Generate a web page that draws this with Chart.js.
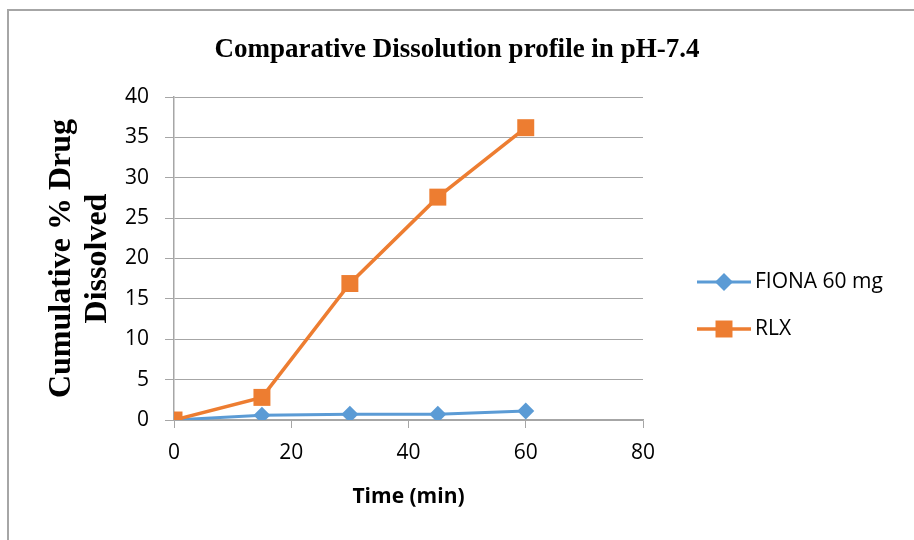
<!DOCTYPE html>
<html>
<head>
<meta charset="utf-8">
<title>Comparative Dissolution profile in pH-7.4</title>
<script src="https://cdn.jsdelivr.net/npm/chart.js@4.4.1/dist/chart.umd.min.js"></script>
<style>
  html, body { margin: 0; padding: 0; background: #fff; }
  #wrap { position: relative; width: 914px; height: 540px; overflow: hidden; }
  #frame { position: absolute; left: 7px; top: 9px; width: 1000px; height: 1000px;
           border-left: 2px solid #A6A6A6; border-top: 2px solid #A6A6A6; }
  canvas { position: absolute; left: 0; top: 0; }
</style>
</head>
<body>
<div id="wrap">
  <div id="frame"></div>
  <canvas id="chart" width="914" height="540"></canvas>
</div>
<script>
// data
const timeMin = [0, 15, 30, 45, 60];
const fionaValues = [0, 0.6, 0.7, 0.7, 1.1];
const rlxValues = [0, 2.8, 16.9, 27.6, 36.2];
const seriesNames = ["FIONA 60 mg", "RLX"];

const sans = "'Open Sans', 'Noto Sans', sans-serif";
const serif = "'Liberation Serif', 'DejaVu Serif', serif";
const gridGray = "#A6A6A6";

const toPoints = vals => timeMin.map((t, i) => ({ x: t, y: vals[i] }));

// legend with a line + marker, like the office chart
const lineLegend = {
  id: "lineLegend",
  afterDraw(chart) {
    const ctx = chart.ctx;
    const area = chart.chartArea;
    const x0 = area.right + 54;
    const mid = (area.top + area.bottom) / 2;
    const ys = [mid + 23.5, mid + 70.5];
    const order = [1, 0]; // FIONA, RLX
    order.forEach((di, k) => {
      const ds = chart.data.datasets[di];
      const y = ys[k];
      ctx.save();
      ctx.strokeStyle = ds.borderColor;
      ctx.fillStyle = ds.backgroundColor;
      ctx.lineWidth = ds.borderWidth;
      ctx.beginPath();
      ctx.moveTo(x0, y);
      ctx.lineTo(x0 + 54, y);
      ctx.stroke();
      Chart.helpers.drawPoint(ctx, {
        pointStyle: ds.pointStyle,
        radius: ds.legendRadius,
        borderWidth: 0,
        rotation: 0
      }, x0 + 27, y);
      ctx.fillStyle = "#000";
      ctx.font = "21px " + sans;
      ctx.textBaseline = "middle";
      ctx.textAlign = "left";
      ctx.fillText(ds.label, x0 + 58, y);
      ctx.restore();
    });
  }
};

new Chart(document.getElementById("chart"), {
  type: "line",
  data: {
    datasets: [
      {
        label: seriesNames[1],
        data: toPoints(rlxValues),
        borderColor: "#ED7D31",
        backgroundColor: "#ED7D31",
        borderWidth: 3.5,
        pointStyle: "rect",
        pointRadius: 12,
        pointBorderWidth: 0,
        legendRadius: 12,
        order: 0
      },
      {
        label: seriesNames[0],
        data: toPoints(fionaValues),
        borderColor: "#5B9BD5",
        backgroundColor: "#5B9BD5",
        borderWidth: 3,
        pointStyle: "rectRot",
        pointRadius: 8.5,
        pointBorderWidth: 0,
        legendRadius: 9,
        order: 1
      }
    ]
  },
  options: {
    responsive: false,
    animation: false,
    devicePixelRatio: 1,
    layout: { padding: 0 },
    plugins: {
      legend: { display: false },
      tooltip: { enabled: false },
      title: {
        display: true,
        text: "Comparative Dissolution profile in pH-7.4",
        color: "#000",
        font: { family: serif, size: 27, weight: "bold", lineHeight: 1.2 },
        padding: { top: 34, bottom: 30.6 }
      }
    },
    scales: {
      x: {
        type: "linear",
        min: 0,
        max: 80,
        ticks: { stepSize: 20, color: "#000", font: { family: sans, size: 21 }, padding: 12 },
        grid: { drawOnChartArea: false, drawTicks: true, tickLength: 8, color: gridGray },
        border: { color: gridGray, width: 1.5 },
        title: {
          display: true,
          text: "Time (min)",
          color: "#000",
          font: { family: sans, size: 21, weight: "bold", lineHeight: 1.2 },
          padding: { bottom: 30 }
        },
        afterFit: s => { s.height = 120; }
      },
      y: {
        min: 0,
        max: 40,
        ticks: { stepSize: 5, color: "#000", font: { family: sans, size: 21 }, padding: 16 },
        grid: { color: gridGray, tickLength: 9 },
        border: { color: gridGray, width: 1.5 },
        title: {
          display: true,
          text: ["Cumulative % Drug", "Dissolved"],
          color: "#000",
          font: { family: serif, size: 32, weight: "bold", lineHeight: 1.125 },
          padding: { top: 44 }
        },
        afterFit: s => { s.width = 174; }
      },
      spacer: {
        position: "right",
        display: true,
        ticks: { display: false },
        grid: { display: false },
        border: { display: false },
        afterFit: s => { s.width = 271; }
      }
    }
  },
  plugins: [lineLegend]
});
</script>
</body>
</html>
